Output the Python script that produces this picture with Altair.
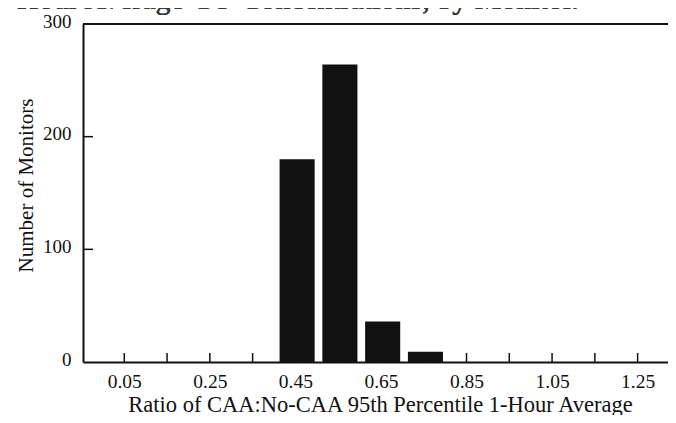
import altair as alt
import pandas as pd

# ---- data ----
bin_centers = [0.45, 0.55, 0.65, 0.75]
monitor_counts = [180, 264, 36, 9]
x_label_values = [0.05, 0.25, 0.45, 0.65, 0.85, 1.05, 1.25]
x_tick_values = [0.05, 0.15, 0.25, 0.35, 0.45, 0.55, 0.65, 0.75, 0.85, 0.95, 1.05, 1.15, 1.25]
y_tick_values = [100, 200]
y_label_values = [0, 100, 200, 300]
top_caption = "Hour Average CO Concentrations, by Monitor."
x_title = "Ratio of CAA:No-CAA 95th Percentile 1-Hour Average"
y_title = "Number of Monitors"

FONT = "Liberation Serif"
INK = "#111111"
W, H = 585, 338

bars_df = pd.DataFrame({"center": bin_centers, "count": monitor_counts})
xt_df = pd.DataFrame({"x": x_tick_values})
yt_df = pd.DataFrame({"y": y_tick_values})

xscale = alt.Scale(domain=[-0.0465, 1.321], nice=False, zero=False)
yscale = alt.Scale(domain=[0, 300], nice=False)

bars = alt.Chart(bars_df).transform_calculate(
    x0="datum.center - 0.037", x1="datum.center + 0.045"
).mark_bar(color=INK).encode(
    x=alt.X("x0:Q", scale=xscale,
            axis=alt.Axis(values=x_label_values, format=".2f", ticks=False, tickSize=0,
                          grid=False, labelFont=FONT, labelFontSize=19.5, labelColor=INK,
                          labelPadding=10, domainColor=INK, domainWidth=2,
                          title=x_title, titleFont=FONT, titleFontSize=22.5,
                          titleFontWeight="normal", titleColor=INK,
                          titleBaseline="alphabetic", titleX=297, titleY=49,
                          titleAlign="center", labelFlush=False)),
    x2="x1:Q",
    y=alt.Y("count:Q", scale=yscale,
            axis=alt.Axis(values=y_label_values, ticks=False, tickSize=0, grid=False,
                          labelFont=FONT, labelFontSize=19, labelColor=INK,
                          labelPadding=12, labelOffset=-3, labelFlush=False,
                          domainColor=INK, domainWidth=2,
                          title=y_title, titleFont=FONT, titleFontSize=21,
                          titleFontWeight="normal", titleColor=INK,
                          titleBaseline="alphabetic", titleAngle=-90,
                          titleX=-51, titleY=161, titleAlign="center")),
    y2=alt.datum(0),
)

xticks = alt.Chart(xt_df).mark_rule(color=INK, strokeWidth=1.5).encode(
    x=alt.X("x:Q", scale=xscale), y=alt.value(H), y2=alt.value(H - 9)
)
yticks = alt.Chart(yt_df).mark_rule(color=INK, strokeWidth=1.5).encode(
    y=alt.Y("y:Q", scale=yscale), x=alt.value(0), x2=alt.value(10)
)
top_line = alt.Chart(bars_df).mark_rule(color=INK, strokeWidth=2).encode(
    x=alt.value(0), x2=alt.value(W), y=alt.value(0)
)
page_border = alt.Chart(bars_df).mark_rule(color="#333333", strokeWidth=2).encode(
    x=alt.value(-77), y=alt.value(-24), y2=alt.value(400)
)
caption = alt.Chart(bars_df).mark_text(
    text=top_caption, font=FONT, fontSize=30, color="#3a3a3a",
    align="left", baseline="alphabetic"
).encode(x=alt.value(-66), y=alt.value(-15))

chart = alt.layer(bars, xticks, yticks, top_line, page_border, caption).properties(
    width=W, height=H,
    autosize=alt.AutoSizeParams(type="none"),
    padding={"left": 75, "top": 16, "right": 0, "bottom": 53},
).configure_view(stroke=None)

chart.save("out.html", embed_options={"renderer": "svg", "actions": False})
